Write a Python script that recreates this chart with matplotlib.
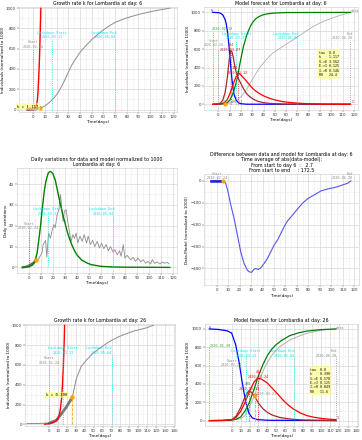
import matplotlib
matplotlib.use("Agg")
import matplotlib.pyplot as plt
from matplotlib.ticker import MultipleLocator

# ---------------- data ----------------
# Panel 1 : growth rate at day 6
p1_data_days = [-5, 0, 3, 6, 8, 10, 12, 14, 16, 18, 20, 22, 24, 26, 28, 30, 32, 35, 38, 40, 45, 50, 55,
                60, 65, 70, 75, 80, 85, 90, 95, 100, 105, 110, 115, 117]
p1_data_vals = [0.5, 3, 8, 18, 25, 38, 55, 75, 95, 120, 150, 185, 225, 270, 320, 370, 420, 480, 530, 565,
                630, 690, 740, 785, 825, 858, 882, 903, 920, 936, 950, 963, 974, 985, 995, 1000]
p1_fit_days = [-5, 0, 1, 2, 3, 3.5, 4, 5, 5.5, 6, 6.4]
p1_fit_vals = [0, 5, 10, 25, 60, 100, 180, 430, 600, 820, 1000]
p1_k = "k = 1.117"

# Panel 2 : model forecast at day 6
p2_days_S = [-5, 0, 2, 4, 6, 7, 8, 9, 10, 11, 12, 13, 14, 16, 18, 20, 25, 117]
p2_S = [1000, 997, 990, 970, 920, 870, 790, 680, 540, 400, 270, 170, 100, 40, 15, 6, 1, 0]
p2_days_R = [-5, 0, 5, 8, 10, 12, 14, 16, 17, 19, 22, 25, 28, 30, 33, 36, 40, 45, 50, 60, 117]
p2_R = [0, 1, 5, 20, 45, 90, 160, 250, 300, 440, 620, 750, 840, 885, 930, 955, 975, 987, 993, 998, 1000]
p2_days_E = [-5, 0, 2, 4, 6, 8, 9, 10, 11, 12, 13, 14, 15, 16, 17, 19, 22, 25, 28, 31, 35, 40, 45, 55, 70, 117]
p2_E = [0, 5, 15, 50, 130, 300, 420, 530, 584, 570, 520, 450, 390, 340, 300, 247, 175, 115, 80, 55, 32,
        18, 10, 3, 1, 0]
p2_days_I = [-5, 0, 4, 6, 8, 10, 12, 14, 16, 17, 18, 19, 21, 24, 27, 30, 33, 36, 40, 45, 50, 57, 65, 72,
             80, 90, 100, 117]
p2_I = [0, 2, 10, 25, 55, 110, 180, 250, 310, 330, 335, 330, 305, 265, 220, 178, 145, 120, 92, 66, 48,
        29, 18, 11, 6, 3, 1.5, 0.5]
p2_data_days = [-5, 5, 10, 15, 20, 25, 30, 36, 42, 48, 57, 66, 75, 84, 93, 105, 117]
p2_data_vals = [0, 3, 12, 35, 80, 160, 270, 390, 480, 556, 629, 700, 774, 847, 902, 956, 1000]
p2_box = "tau  0.0\nk    1.117\nS->E 3.562\nE->I 0.125\nI->R 0.146\nR0   24.4"

# Panel 3 : daily variations at day 6
p3_data_days = [-5, -3, -1, 0, 2, 4, 6, 8, 9, 11, 12, 14, 15, 16.5, 18, 19.5, 21, 22, 23.5, 25, 26.3,
                27.2, 28.5, 29.6, 31, 32.4, 33.8, 35.2, 36.6, 38, 39.3, 40.7, 42.5, 44.3, 46, 48, 49.3,
                51.2, 53, 54.8, 56.8, 58.7, 60.4, 62.3, 64.3, 66, 67.9, 69.8, 71.5, 73.4, 75.3, 76.7,
                78.4, 79.8, 81.7, 84.5, 86.7, 88.6, 90.6, 92.8, 95, 97, 98.9, 101, 102.5, 104.4, 106.6,
                108.9, 110.8, 112.7, 115, 116.3]
p3_data_vals = [0, 0.2, 0.5, 0.8, 1.5, 2.2, 3.7, 3.7, 5, 6.9, 11, 13, 5, 16.5, 14, 18, 20.5, 19, 25,
                27.7, 35, 30, 22, 27, 27.7, 22, 17, 12.5, 15.7, 14, 16.5, 11.7, 15, 12.5, 15.7, 11.7,
                15, 11, 13, 10, 12.5, 9.3, 11.7, 9, 11, 8, 10, 7.4, 8.5, 6, 8, 5.3, 11, 4.5, 5.8, 3.7,
                4.8, 2.9, 4.5, 2.6, 3.7, 2, 2.9, 1.6, 3.7, 2, 2.6, 1.6, 2.6, 2, 2.4, 1.8]
p3_model_days = [-5, 0, 3, 5, 7, 9, 10, 11, 12, 13, 14, 15, 16, 17, 18, 19, 20, 22, 24, 26, 28, 30, 32,
                 34, 36, 38, 40, 44, 48, 52, 60, 70, 80, 117]
p3_model_vals = [0, 0.3, 1, 2.5, 7, 16, 21, 27, 32, 37, 40.5, 43, 45, 45.8, 46, 45.7, 45, 42, 36.5, 31,
                 26, 21.5, 17, 13.5, 10.5, 8, 6, 3.5, 2.2, 1.3, 0.5, 0.2, 0.1, 0]

# Panel 4 : difference data - model at day 6
p4_days = [-5, 0, 6, 7.9, 9.9, 12, 15.2, 18.1, 21, 23.9, 26.8, 28.3, 30.3, 32.7, 34.1, 36.2, 38.5, 41.4,
           44.3, 47.2, 50.1, 53.1, 56, 58.9, 61.8, 66.2, 70.6, 74.9, 79.3, 85.1, 91, 96.8, 102.6, 108.5,
           114.3, 117]
p4_vals = [0, 0, 0, -11, -49, -102, -171, -247, -324, -377, -408, -415, -418, -403, -400, -405, -397,
           -377, -354, -324, -293, -270, -240, -209, -183, -156, -128, -102, -82, -64, -46, -37, -31,
           -21, -11, 0]
p4_title = ("Difference between data and model for Lombardia at day: 6\n"
            "Time average of abs(data-model):\n"
            "From start to day 6  :   2.7\n"
            "From start to end     : 172.5")

# Panel 5 : growth rate at day 26
p5_data_days = [-25, -10, 0.7, 8, 14, 19.5, 26, 30.7, 36, 42, 49.4, 57, 68, 79, 94, 109, 117]
p5_data_vals = [7, 9, 14, 40, 108, 176, 271, 464, 583, 650, 718, 769, 837, 888, 939, 973, 1000]
p5_fit_days = [-5, 0, 5, 8, 10, 11, 12, 13, 14, 15, 16, 17, 17.4]
p5_fit_vals = [2, 6, 18, 35, 55, 81, 120, 178, 263, 390, 577, 850, 1000]
p5_k = "k = 0.390"

# Panel 6 : model forecast at day 26
p6_days_S = [-25, -15, -5, 0, 4.5, 8.2, 12, 15.7, 19.5, 23.2, 28.8, 40, 117]
p6_S = [1000, 995, 980, 955, 828, 645, 407, 205, 77, 29, 11, 4, 0]
p6_days_R = [-25, -10, 0, 5, 10, 15, 20, 25, 30, 35, 40, 45, 50, 55, 65, 75, 85, 100, 117]
p6_R = [0, 1, 5, 15, 40, 105, 200, 340, 490, 610, 710, 780, 830, 868, 927, 958, 978, 993, 1000]
p6_days_E = [-25, -10, 0, 5, 10, 15, 19, 22, 26, 30, 35, 40, 46, 55, 65, 80, 117]
p6_E = [0, 2, 10, 50, 140, 260, 325, 310, 260, 190, 130, 90, 58, 32, 18, 6, 1]
p6_days_I = [-25, -10, 0, 5, 10, 15, 20, 25, 29, 33, 40, 46, 52, 58, 64, 69, 76, 84, 92, 102, 110, 117]
p6_I = [0, 2, 10, 35, 100, 200, 320, 420, 462, 455, 410, 348, 285, 220, 165, 128, 88, 55, 37, 22, 15, 11]
p6_data_days = [-25, 0, 10, 15, 20, 26, 31.5, 37, 42.7, 48, 53.9, 65, 75, 84, 95, 102.5, 117]
p6_data_vals = [0, 5, 20, 55, 150, 280, 458, 580, 678, 750, 806, 879, 920, 952, 975, 989, 1000]
p6_box = "tau  0.0\nk    0.390\nS->E 0.570\nE->I 0.125\nI->R 0.049\nR0   11.6"

# ---------------- style ----------------
plt.rcParams['font.family'] = ['DejaVu Sans']
TFS = 3.4     # title
LFS = 3.0     # axis labels
KFS = 2.8     # tick labels
AFS = 2.5     # annotations
MONO = 'DejaVu Sans Mono'
GRAY = '#8c8c8c'
CYAN = '#00e5ee'

fig = plt.figure(figsize=(3.62, 4.40), dpi=100)


def style(ax, xmaj, ymaj, xlim, ylim):
    ax.set_xlim(*xlim)
    ax.set_ylim(*ylim)
    ax.xaxis.set_major_locator(MultipleLocator(xmaj))
    ax.yaxis.set_major_locator(MultipleLocator(ymaj))
    ax.xaxis.set_minor_locator(MultipleLocator(xmaj / 2))
    ax.yaxis.set_minor_locator(MultipleLocator(ymaj / 2))
    ax.grid(which='major', color='#d8d8d8', lw=0.5)
    ax.grid(which='minor', color='#e6e6e6', lw=0.4, ls='--')
    ax.tick_params(labelsize=KFS, length=1.2, width=0.3, pad=1, colors='#333333')
    ax.tick_params(which='minor', length=0)
    for s in ax.spines.values():
        s.set_color('#cccccc')
        s.set_linewidth(0.4)
    ax.set_xlabel('Time(days)', fontsize=LFS, labelpad=1)


def vline(ax, x, top, color, ls=':'):
    ax.plot([x, x], [0, top], color=color, lw=0.6, ls=ls)


def note(ax, x, y, s, color, ha='center', fs=AFS):
    ax.text(x, y, s, color=color, fontsize=fs, family=MONO, ha=ha, va='center',
            linespacing=1.1)


def xticks_range(ax, stop, step):
    ax.set_xticks(list(range(0, stop + 1, step)))


# ---------- Panel 1 ----------
ax1 = fig.add_axes([0.0525, 0.7455, 0.4365, 0.2386])
style(ax1, 10, 200, (-12.3, 123), (-23, 1010))
xticks_range(ax1, 120, 10)
ax1.set_ylabel('Individuals (normalized to 1000)', fontsize=LFS, labelpad=1)
ax1.set_title('Growth rate k for Lombardia at day: 6', fontsize=TFS, pad=1.5)
ax1.plot(p1_data_days, p1_data_vals, color=GRAY, lw=0.7)
ax1.plot(p1_data_days[:4], p1_data_vals[:4], color='#666666', lw=1.8)
ax1.plot(p1_fit_days, p1_fit_vals, color='red', lw=1.0)
ax1.plot([p1_data_days[3]], [p1_data_vals[3]], 'o', color='orange', ms=2)
vline(ax1, 0, 600, GRAY)
vline(ax1, 16, 700, CYAN)
vline(ax1, 70, 700, CYAN)
note(ax1, 0, 640, 'Start\n2020-02-24', GRAY)
note(ax1, 16, 735, 'Lockdown Start\n2020-03-11', CYAN)
note(ax1, 71, 735, 'Lockdown End\n2020-05-04', CYAN, ha='right')
ax1.text(-14, 30, p1_k, fontsize=AFS + 0.3, family=MONO, ha='left', va='center', clip_on=False,
         bbox=dict(boxstyle='square,pad=0.3', fc='#ffff80', ec='none', alpha=0.6))

# ---------- Panel 2 ----------
ax2 = fig.add_axes([0.5635, 0.75, 0.4254, 0.234])
style(ax2, 10, 200, (-12.8, 123.7), (-62, 1058))
xticks_range(ax2, 120, 10)
ax2.set_ylabel('Individuals (normalized to 1000)', fontsize=LFS, labelpad=1)
ax2.set_title('Model forecast for Lombardia at day: 6', fontsize=TFS, pad=1.5)
ax2.plot(p2_data_days, p2_data_vals, color='#b0b0b0', lw=0.6)
ax2.plot(p2_days_S, p2_S, color='blue', lw=0.9)
ax2.plot(p2_days_R, p2_R, color='green', lw=0.9)
ax2.plot(p2_days_E, p2_E, color='brown', lw=0.9)
ax2.plot(p2_days_I, p2_I, color='red', lw=0.9)
ax2.plot([6], [0], 'o', color='orange', ms=2)
vline(ax2, -5, 800, '#33cc33')
vline(ax2, 0, 600, GRAY)
vline(ax2, 16, 700, CYAN)
vline(ax2, 70, 700, CYAN)
vline(ax2, 117, 700, GRAY)
vline(ax2, 11, 584, 'brown')
vline(ax2, 17, 330, 'red')
note(ax2, -5.5, 815, '2020-02-19', '#33aa33', ha='left')
note(ax2, -4, 668, 'Start\n2020-02-24', GRAY, fs=2.3)
note(ax2, 16, 742, 'Lockdown Start\n2020-03-11', CYAN)
note(ax2, 71, 742, 'Lockdown End\n2020-05-04', CYAN, ha='right')
note(ax2, 119, 742, 'End\n2020-06-20', GRAY, ha='right')
note(ax2, 11, 642, '584', 'brown')
note(ax2, 11, 588, '2020-03-07', 'brown')
note(ax2, 15, 393, '330', 'red')
note(ax2, 16.5, 345, '2020-03-12', 'red')
note(ax2, 12, 30, '2020-03-01', GRAY)
note(ax2, -6, 1012, 'S', 'blue')
note(ax2, 117.5, 1012, 'data', GRAY, ha='left')
note(ax2, 119, 30, 'I', 'red')
ax2.text(89, 440, p2_box, fontsize=AFS - 0.2, family=MONO, ha='left', va='center', linespacing=1.15,
         bbox=dict(boxstyle='square,pad=0.5', fc='#ffff80', ec='none', alpha=0.6))

# ---------- Panel 3 ----------
ax3 = fig.add_axes([0.047, 0.3795, 0.442, 0.2386])
style(ax3, 10, 10, (-9.7, 123), (-2.7, 47.7))
xticks_range(ax3, 120, 10)
ax3.set_yticks([0, 10, 20, 30, 40])
ax3.set_ylabel('Daily variations', fontsize=LFS, labelpad=1)
ax3.set_title('Daily variations for data and model normalized to 1000\nLombardia at day: 6',
              fontsize=TFS, pad=1.5, linespacing=1.1)
ax3.plot(p3_data_days, p3_data_vals, color=GRAY, lw=0.6)
ax3.plot(p3_data_days[:7], p3_data_vals[:7], color='#666666', lw=1.6)
ax3.plot(p3_model_days, p3_model_vals, color='green', lw=1.0)
ax3.plot([6], [3.7], 'o', color='orange', ms=2.2)
vline(ax3, 0, 18.5, '#555555')
vline(ax3, 16, 25, CYAN)
vline(ax3, 70, 25, CYAN)
note(ax3, 0, 20, 'Start\n2020-02-24', GRAY)
note(ax3, 16, 26.8, 'Lockdown Start\n2020-03-11', CYAN)
note(ax3, 71, 26.8, 'Lockdown End\n2020-05-04', CYAN, ha='right')

# ---------- Panel 4 ----------
ax4 = fig.add_axes([0.5635, 0.352, 0.428, 0.252])
style(ax4, 10, 100, (-11, 124), (-476, 30))
xticks_range(ax4, 120, 10)
ax4.set_ylabel('Data-Model (normalized to 1000)', fontsize=LFS, labelpad=1)
ax4.set_title(p4_title, fontsize=TFS, pad=1.5, linespacing=1.1)
ax4.plot(p4_days, p4_vals, color='#5555ee', lw=0.8)
ax4.plot(p4_days[:3], p4_vals[:3], color='#2222cc', lw=1.8)
ax4.plot([6], [0], 'o', color='orange', ms=2)
note(ax4, 0.5, 21, 'Start\n2020-02-24', GRAY)
note(ax4, 119, 21, 'End\n2020-06-20', GRAY, ha='right')

# ---------- Panel 5 ----------
ax5 = fig.add_axes([0.069, 0.0318, 0.414, 0.232])
style(ax5, 10, 200, (-27, 141), (-17, 1013))
xticks_range(ax5, 140, 10)
ax5.set_ylabel('Individuals (normalized to 1000)', fontsize=LFS, labelpad=1)
ax5.set_title('Growth rate k for Lombardia at day: 26', fontsize=TFS, pad=1.5)
ax5.plot(p5_data_days, p5_data_vals, color=GRAY, lw=0.7)
ax5.plot(p5_data_days[2:7], p5_data_vals[2:7], color='#777777', lw=2.0)
ax5.plot(p5_fit_days, p5_fit_vals, color='red', lw=1.0)
ax5.plot([26], [271], 'o', color='orange', ms=2.2)
vline(ax5, 26, 271, 'orange', ls='--')
vline(ax5, 0, 600, GRAY)
vline(ax5, 16, 700, CYAN)
vline(ax5, 70, 700, CYAN)
note(ax5, 0, 643, 'Start\n2020-02-24', GRAY)
note(ax5, 16, 745, 'Lockdown Start\n2020-03-11', CYAN)
note(ax5, 70.5, 745, 'Lockdown End\n2020-05-04', CYAN, ha='right')
ax5.text(9, 295, p5_k, fontsize=AFS + 0.3, family=MONO, ha='center', va='center',
         bbox=dict(boxstyle='square,pad=0.3', fc='#ffff80', ec='none', alpha=0.6))

# ---------- Panel 6 ----------
ax6 = fig.add_axes([0.566, 0.0318, 0.4227, 0.232])
style(ax6, 10, 200, (-30, 141.5), (-59, 1055))
xticks_range(ax6, 140, 10)
ax6.set_ylabel('Individuals (normalized to 1000)', fontsize=LFS, labelpad=1)
ax6.set_title('Model forecast for Lombardia at day: 26', fontsize=TFS, pad=1.5)
ax6.plot(p6_data_days, p6_data_vals, color='#b0b0b0', lw=0.7)
ax6.plot(p6_days_S, p6_S, color='blue', lw=0.9)
ax6.plot(p6_days_R, p6_R, color='green', lw=0.9)
ax6.plot(p6_days_E, p6_E, color='brown', lw=0.9)
ax6.plot(p6_days_I, p6_I, color='red', lw=0.9)
ax6.plot([26], [280], 'o', color='orange', ms=2.2)
vline(ax6, 26, 280, 'orange', ls='--')
vline(ax6, -25, 800, '#33cc33')
vline(ax6, 0, 590, GRAY)
vline(ax6, 16, 700, CYAN)
vline(ax6, 70, 700, CYAN)
vline(ax6, 117, 700, GRAY)
vline(ax6, 19, 325, 'brown')
vline(ax6, 29, 462, 'red')
note(ax6, -25, 810, '2020-01-30', '#33aa33', ha='left')
note(ax6, 0, 632, 'Start\n2020-02-24', GRAY)
note(ax6, 16, 731, 'Lockdown Start\n2020-03-11', CYAN)
note(ax6, 70.5, 731, 'Lockdown End\n2020-05-04', CYAN, ha='right')
note(ax6, 118.5, 731, 'End\n2020-06-20', GRAY, ha='right')
note(ax6, 31, 527, '462', 'red')
note(ax6, 29.5, 480, '2020-03-24', 'red')
note(ax6, 18, 395, '325', 'brown')
note(ax6, 20, 340, '2020-03-14', 'brown')
note(ax6, 27, 289, '2020-03-21', GRAY, ha='left')
note(ax6, -25, 1012, 'S', 'blue')
note(ax6, 117, 1012, 'data', GRAY, ha='left')
note(ax6, 119, 30, 'I', 'red')
ax6.text(88, 435, p6_box, fontsize=AFS - 0.2, family=MONO, ha='left', va='center', linespacing=1.15,
         bbox=dict(boxstyle='square,pad=0.5', fc='#ffff80', ec='none', alpha=0.6))

fig.savefig('out.png', dpi=100)
